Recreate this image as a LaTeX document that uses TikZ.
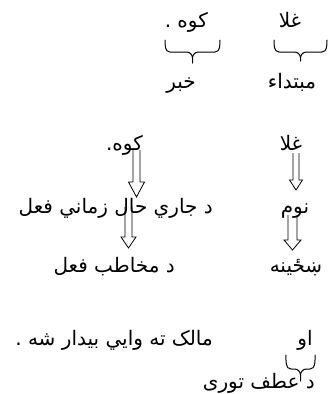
\documentclass[tikz,border=0pt]{standalone}
\usepackage{fontspec}
\newfontfamily\arabicfont[Script=Arabic]{DejaVu Sans}
\TeXXeTstate=1
\usetikzlibrary{calc}
\tikzset{
  ar/.style={font=\arabicfont\fontsize{20}{22}\selectfont, inner sep=0pt},
  hol/.style={draw, line width=0.8pt, line join=miter},
  brc/.style={draw, line width=1pt, line cap=round}
}
\newcommand{\rtl}[1]{\beginR #1\endR}
% hollow arrow: start, end, half shaft, half head, head length
\newcommand{\harrow}[5]{%
  \draw[hol] ($(#1)+(-#3,0)$) -- ($(#2)+(-#3,-#5)$) -- ($(#2)+(-#4,-#5)$) -- (#2)
    -- ($(#2)+(#4,-#5)$) -- ($(#2)+(#3,-#5)$) -- ($(#1)+(#3,0)$);}
% brace: left x, right x, top y, bar y, tip y
\newcommand{\hbrace}[5]{%
  \pgfmathsetmacro\bxm{(#1+#2)/2}%
  \pgfmathsetmacro\bxl{#1+5}%
  \pgfmathsetmacro\bxr{#2-5}%
  \pgfmathsetmacro\bxa{\bxm-6}%
  \pgfmathsetmacro\bxb{\bxm+6}%
  \pgfmathsetmacro\byc{#4+6}%
  \draw[brc] (#1,#3) to[out=-90,in=180] (\bxl,#4) -- (\bxa,#4)
    to[out=0,in=90] (\bxm,\byc) -- (\bxm,#5);
  \draw[brc] (#2,#3) to[out=-90,in=0] (\bxr,#4) -- (\bxb,#4)
    to[out=180,in=90] (\bxm,\byc);}
\begin{document}
\begin{tikzpicture}[x=1pt,y=-1pt]
\useasboundingbox (0,0) rectangle (330,394);
% row 1
\node[ar, anchor=base] (g1) at (290,27) {\rtl{غلا}};
\node[ar, anchor=base east] (k1) at (208,27) {\rtl{کوه .}};
\hbrace{165}{220}{40}{52}{63}
\hbrace{274}{327}{40}{52}{61}
\node[ar, anchor=base] (kh) at (181,88) {\rtl{خبر}};
\node[ar, anchor=base] (mb) at (292,88) {\rtl{مبتداء}};
% row 2
\node[ar, anchor=base east] (k2) at (143,150) {\rtl{کوه.}};
\node[ar, anchor=base] (g2) at (291,150) {\rtl{غلا}};
% row 3
\node[ar, anchor=base east] (jf) at (213,213) {\rtl{د جاري حال زماني فعل}};
\node[ar, anchor=base] (nm) at (295,213) {\rtl{نوم}};
% row 4
\node[ar, anchor=base east] (mf) at (175,272) {\rtl{د مخاطب فعل}};
\node[ar, anchor=base] (sh) at (296,272) {\rtl{ښځینه}};
% row 5
\node[ar, anchor=base] (aw) at (305,345) {\rtl{او}};
\node[ar, anchor=base east] (ml) at (213,345) {\rtl{مالک ته وايي بيدار شه .}};
\hbrace{286}{315}{355}{369}{381}
\node[ar, anchor=base east] (at) at (315,388) {\rtl{د عطف توری}};
% arrows
\coordinate (a1s) at (136.5,150); \coordinate (a1e) at (136.5,197);
\coordinate (a2s) at (296,153); \coordinate (a2e) at (296,190);
\coordinate (a3s) at (128.5,207); \coordinate (a3e) at (128.5,248);
\coordinate (a4s) at (292.5,215); \coordinate (a4e) at (292.5,250);
\harrow{a1s}{a1e}{3.5}{8}{15}
\harrow{a2s}{a2e}{3}{6.5}{10}
\harrow{a3s}{a3e}{3.5}{7.5}{11}
\harrow{a4s}{a4e}{4.5}{8.5}{10}
\end{tikzpicture}
\end{document}
